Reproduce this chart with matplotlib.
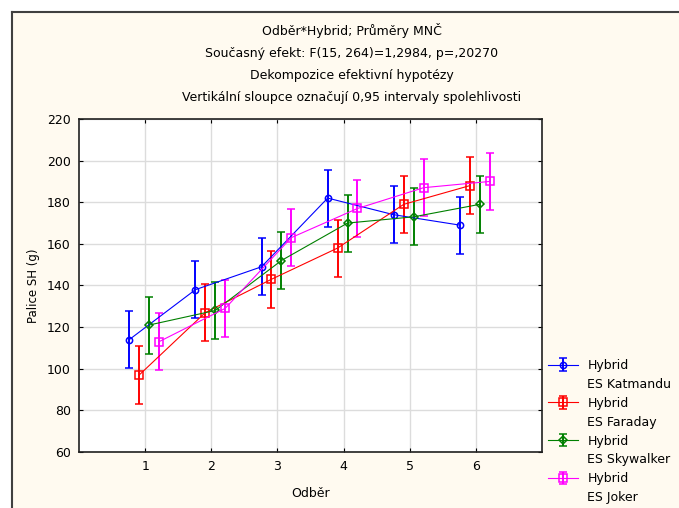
import matplotlib.pyplot as plt
import matplotlib.patches as mpatches
from matplotlib.lines import Line2D
import numpy as np

plt.rcParams['font.family'] = ['DejaVu Sans']

odber = [1, 2, 3, 4, 5, 6]
katmandu = [114, 138, 149, 182, 174, 169]
faraday = [97, 127, 143, 158, 179, 188]
skywalker = [121, 128, 152, 170, 173, 179]
joker = [113, 129, 163, 177, 187, 190]
ci = 13.7

hybrids = ['ES Katmandu', 'ES Faraday', 'ES Skywalker', 'ES Joker']
series = [katmandu, faraday, skywalker, joker]
colors = ['#0000ff', '#ff0000', '#008000', '#ff00ff']
markers = ['o', 's', 'D', 's']
sizes = [4.5, 5.5, 4, 5.5]
offsets = [-0.24, -0.09, 0.06, 0.21]

fig = plt.figure(figsize=(6.79, 5.08), dpi=100)
fig.patch.set_facecolor('white')
# kremovy panel s tmavym okrajem nahore a vlevo
bg = mpatches.Rectangle((12 / 679, 0), 1, 1 - 12 / 508, transform=fig.transFigure,
                        facecolor='#fffaf0', edgecolor='none', zorder=-10)
fig.patches.append(bg)
fig.add_artist(Line2D([12 / 679, 1], [1 - 12 / 508] * 2, transform=fig.transFigure,
                      color='#404040', lw=1.5))
fig.add_artist(Line2D([12 / 679] * 2, [0, 1 - 12 / 508], transform=fig.transFigure,
                      color='#404040', lw=1.5))

ax = fig.add_axes([79 / 679, 1 - 452 / 508, (542 - 79) / 679, (452 - 119) / 508])
ax.set_facecolor('white')

x = np.array(odber, dtype=float)
handles, labels = [], []
for name, vals, c, m, s, off in zip(hybrids, series, colors, markers, sizes, offsets):
    eb = ax.errorbar(x + off, vals, yerr=ci, color=c, lw=0.8, elinewidth=1.4,
                     capsize=3, capthick=1.2, marker=m, ms=s, mfc='none', mew=1.1,
                     zorder=3)
    handles += [eb, Line2D([], [], color='none')]
    labels += ['Hybrid', name]

ax.set_xlim(0, 7)
ax.set_ylim(60, 220)
ax.set_xticks(odber)
ax.set_yticks(np.arange(60, 221, 20))
ax.grid(True, color='#dcdcdc', lw=1)
ax.set_axisbelow(True)
ax.tick_params(direction='in', length=3, top=True, right=True, labelsize=9,
               labeltop=False, labelright=False, pad=6)
for sp in ax.spines.values():
    sp.set_linewidth(1.2)
    sp.set_color('#202020')

ax.set_xlabel('Odběr', fontsize=9, labelpad=10)
ax.set_ylabel('Palice SH (g)', fontsize=8.5, labelpad=5)

titles = ['Odběr*Hybrid; Průměry MNČ',
          'Současný efekt: F(15, 264)=1,2984, p=,20270',
          'Dekompozice efektivní hypotézy',
          'Vertikální sloupce označují 0,95 intervaly spolehlivosti']
for i, t in enumerate(titles):
    fig.text(352 / 679, 1 - (31 + i * 22.3) / 508, t, ha='center', va='center', fontsize=9)

leg = ax.legend(handles, labels, loc='upper left', bbox_to_anchor=(548 / 679, 1 - 359 / 508),
                bbox_transform=fig.transFigure, frameon=False, fontsize=9,
                handlelength=2.4, labelspacing=0.47, borderaxespad=0, borderpad=0,
                handletextpad=0.75)

fig.savefig('out.png', dpi=100, facecolor=fig.get_facecolor())
